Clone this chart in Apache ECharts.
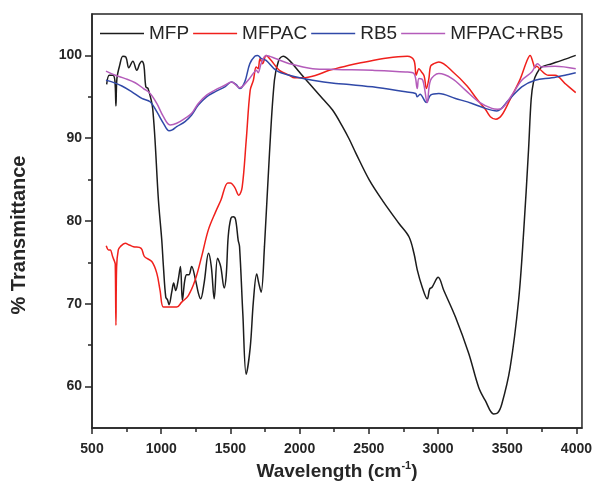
<!DOCTYPE html>
<html>
<head>
<meta charset="utf-8">
<script src="https://cdn.jsdelivr.net/npm/echarts@6/dist/echarts.min.js"></script>
<style>
  html, body { margin: 0; padding: 0; background: #fff; }
  #ftir { width: 595px; height: 492px; }
</style>
</head>
<body>
<div id="ftir"></div>
<script>
// FTIR spectra, values

var mfpWn = [606, 625, 650, 665, 673, 680, 700, 723, 745, 766, 795, 824, 845, 860, 875, 889, 905, 939, 980, 1004,
  1016, 1033, 1045, 1057, 1076, 1090, 1105, 1122, 1139, 1153, 1170, 1184, 1200, 1220, 1249, 1270, 1285, 1310, 1342, 1362,
  1383, 1407, 1430, 1455, 1470, 1484, 1503, 1520, 1537, 1556, 1566, 1590, 1614, 1643, 1666, 1690, 1705, 1722, 1746, 1782,
  1818, 1849, 1882, 1926, 1998, 2070, 2165, 2238, 2310, 2358, 2406, 2502, 2598, 2718, 2790, 2826, 2850, 2886, 2922, 2940,
  2957, 3001, 3042, 3126, 3222, 3294, 3342, 3402, 3430, 3461, 3521, 3582, 3618, 3654, 3673, 3690, 3713, 3750, 3822, 3894, 3995];
var mfpT = [96.5, 97.6, 97.6, 97.0, 93.9, 97.2, 98.8, 99.9, 99.8, 98.5, 99.3, 98.2, 99.0, 99.3, 98.8, 96.2, 96.0, 93.5, 82.5, 77.7,
  74.5, 70.8, 70.5, 69.9, 71.4, 72.5, 71.6, 72.8, 74.5, 70.4, 72.8, 73.5, 73.5, 74.5, 72.8, 71.2, 70.6, 72.5, 76.1, 74.5,
  70.6, 75.5, 74.5, 71.9, 73.5, 78.1, 80.3, 80.5, 80.2, 77.7, 76.9, 68.7, 61.5, 64.7, 70.3, 73.6, 72.5, 71.4, 76.9, 88.1,
  97.0, 99.4, 99.9, 99.4, 98.0, 96.6, 94.8, 93.4, 91.4, 89.9, 88.2, 85.0, 82.5, 79.7, 78.1, 76.1, 74.1, 72.0, 70.6, 71.8,
  72.0, 73.2, 71.6, 68.4, 64.0, 59.9, 58.3, 56.7, 56.8, 57.9, 62.3, 70.4, 78.5, 88.6, 94.7, 96.8, 97.8, 98.6, 99.0, 99.4, 100.0];

var mfpacWn = [603, 620, 632, 649, 663, 668, 673, 678, 690, 704, 740, 770, 800, 855, 879, 932, 968, 992, 1016, 1060,
  1112, 1148, 1196, 1244, 1292, 1340, 1393, 1431, 1481, 1500, 1530, 1561, 1585, 1614, 1643, 1666, 1686, 1700, 1714, 1733,
  1758, 1794, 1854, 1926, 1962, 2022, 2118, 2214, 2358, 2442, 2634, 2778, 2826, 2842, 2862, 2881, 2900, 2916, 2934, 2946,
  2970, 3006, 3114, 3210, 3282, 3342, 3378, 3418, 3461, 3521, 3593, 3641, 3665, 3689, 3700, 3713, 3738, 3798, 3846, 3918, 3995];
var mfpacT = [77.0, 76.5, 76.5, 75.7, 75.1, 74.8, 67.4, 74.5, 76.5, 76.9, 77.3, 77.1, 76.9, 76.7, 75.7, 75.1, 73.7, 71.6, 69.6, 69.6,
  69.6, 70.2, 71.0, 72.8, 75.7, 78.9, 81.1, 82.5, 84.6, 84.6, 84.1, 83.1, 84.1, 89.7, 95.8, 97.0, 98.6, 98.4, 99.6, 99.0,
  100.0, 99.4, 98.2, 97.6, 97.3, 97.3, 97.6, 98.2, 98.8, 99.1, 99.7, 99.9, 99.4, 97.6, 98.4, 98.0, 97.5, 96.0, 97.2, 98.7,
  99.0, 99.2, 97.9, 96.3, 94.7, 93.5, 92.6, 92.3, 92.8, 94.7, 97.1, 99.3, 100.0, 99.0, 98.5, 98.7, 98.3, 97.6, 97.6, 96.6, 95.5];

var rb5Wn = [601, 644, 716, 788, 860, 920, 968, 1016, 1057, 1080, 1112, 1172, 1220, 1268, 1328, 1388, 1460, 1508, 1540, 1568,
  1604, 1640, 1676, 1697, 1724, 1758, 1830, 1926, 2094, 2262, 2358, 2526, 2766, 2838, 2850, 2870, 2916, 2946, 3006, 3126,
  3246, 3342, 3425, 3510, 3605, 3701, 3822, 3942, 3995];
var rb5T = [97.0, 96.8, 96.3, 95.6, 94.8, 94.4, 93.2, 91.8, 90.9, 91.0, 91.4, 92.0, 92.8, 94.0, 95.0, 95.6, 96.2, 96.8, 96.5, 96.0,
  96.8, 99.0, 99.9, 100.0, 99.6, 99.4, 98.2, 97.6, 97.0, 96.6, 96.5, 96.2, 95.6, 95.4, 95.0, 95.3, 94.3, 95.2, 95.4, 94.8,
  94.2, 93.6, 93.3, 94.6, 96.2, 97.0, 97.3, 97.7, 97.9];

var mixWn = [601, 668, 740, 812, 872, 920, 968, 1016, 1064, 1112, 1172, 1220, 1268, 1328, 1388, 1460, 1508, 1568, 1628, 1664,
  1688, 1700, 1722, 1758, 1830, 1926, 2094, 2262, 2526, 2766, 2826, 2850, 2862, 2890, 2922, 2946, 3006, 3102, 3198, 3294,
  3389, 3430, 3461, 3533, 3605, 3677, 3720, 3750, 3846, 3995];
var mixT = [98.1, 97.6, 97.2, 96.7, 96.0, 95.4, 94.2, 92.6, 91.6, 91.8, 92.4, 93.0, 94.2, 95.2, 95.8, 96.4, 96.8, 96.1, 97.0, 97.8,
  98.2, 97.9, 99.0, 100.0, 99.6, 99.0, 98.4, 98.3, 98.2, 98.0, 97.8, 96.0, 97.2, 97.0, 94.3, 97.0, 97.8, 97.2, 95.8, 94.4,
  93.6, 93.5, 93.6, 95.2, 97.0, 98.0, 99.0, 98.6, 98.7, 98.4];

var names = ['MFP', 'MFPAC', 'RB5', 'MFPAC+RB5'];
var colors = ['#1c1c1c', '#f0201c', '#3049a8', '#b45cba'];

var xMajor = [500, 1000, 1500, 2000, 2500, 3000, 3500, 4000];
var xMinor = [750, 1250, 1750, 2250, 2750, 3250, 3750];
var yMajor = [60, 70, 80, 90, 100];
var yMinor = [65, 75, 85, 95];

function pairs(xs, ys) {
    var out = [];
    for (var i = 0; i < xs.length; i++) out.push([xs[i], ys[i]]);
    return out;
}

var font = "'Liberation Sans', Arial, sans-serif";
var ink = '#262626';

var spectra = [pairs(mfpWn, mfpT), pairs(mfpacWn, mfpacT), pairs(rb5Wn, rb5T), pairs(mixWn, mixT)];

var series = spectra.map(function (d, i) {
    return {
        name: names[i],
        type: 'line',
        data: d,
        symbol: 'none',
        smooth: 0.35,
        lineStyle: { color: colors[i], width: 1.5 },
        itemStyle: { color: colors[i] },
        animation: false
    };
});

var option = {
    animation: false,
    grid: {
        left: 92, right: 11, top: 14, bottom: 64,
        show: true, borderColor: ink, borderWidth: 1.5, backgroundColor: '#fff'
    },
    legend: {
        data: names,
        left: 100, top: 24, padding: 0,
        icon: 'rect',
        itemWidth: 44, itemHeight: 1.6, itemGap: 4,
        textStyle: { fontFamily: font, fontSize: 19, color: ink }
    },
    xAxis: [
        {
            type: 'value', min: 500, max: 4040,
            axisLine: { show: true, lineStyle: { color: ink, width: 1.5 } },
            axisTick: { show: true, customValues: xMajor, length: 6, lineStyle: { color: ink, width: 1.5 } },
            axisLabel: {
                customValues: xMajor, margin: 14, color: ink, fontFamily: font, fontSize: 14, fontWeight: 'bold',
                formatter: function (v) { return String(v); }
            },
            splitLine: { show: false },
            name: '{a|Wavelength (cm}{s|-1}{a|)}',
            nameLocation: 'middle', nameGap: 29,
            nameTextStyle: {
                rich: {
                    a: { fontFamily: font, fontSize: 19, fontWeight: 'bold', color: ink, lineHeight: 22 },
                    s: { fontFamily: font, fontSize: 11, fontWeight: 'bold', color: ink, verticalAlign: 'top', lineHeight: 22 }
                }
            }
        },
        {
            type: 'value', min: 500, max: 4040, position: 'bottom',
            axisLine: { show: false },
            axisTick: { show: true, customValues: xMinor, length: 4, lineStyle: { color: ink, width: 1.5 } },
            axisLabel: { show: false },
            splitLine: { show: false }
        }
    ],
    yAxis: [
        {
            type: 'value', min: 55, max: 105,
            axisLine: { show: true, lineStyle: { color: ink, width: 1.5 } },
            axisTick: { show: true, customValues: yMajor, length: 7, lineStyle: { color: ink, width: 1.5 } },
            axisLabel: {
                customValues: yMajor, margin: 10, color: ink, fontFamily: font, fontSize: 14, fontWeight: 'bold',
                formatter: function (v) { return String(v); }
            },
            splitLine: { show: false }
        },
        {
            type: 'value', min: 55, max: 105, position: 'left',
            axisLine: { show: false },
            axisTick: { show: true, customValues: yMinor, length: 4, lineStyle: { color: ink, width: 1.5 } },
            axisLabel: { show: false },
            splitLine: { show: false }
        }
    ],
    graphic: [
        {
            type: 'text', x: 19, y: 235, rotation: Math.PI / 2,
            style: {
                text: '% Transmittance', fill: ink,
                font: 'bold 20px ' + font,
                textAlign: 'center', textVerticalAlign: 'middle'
            }
        }
    ],
    series: series
};

var chart = echarts.init(document.getElementById('ftir'));
chart.setOption(option);
</script>
</body>
</html>
